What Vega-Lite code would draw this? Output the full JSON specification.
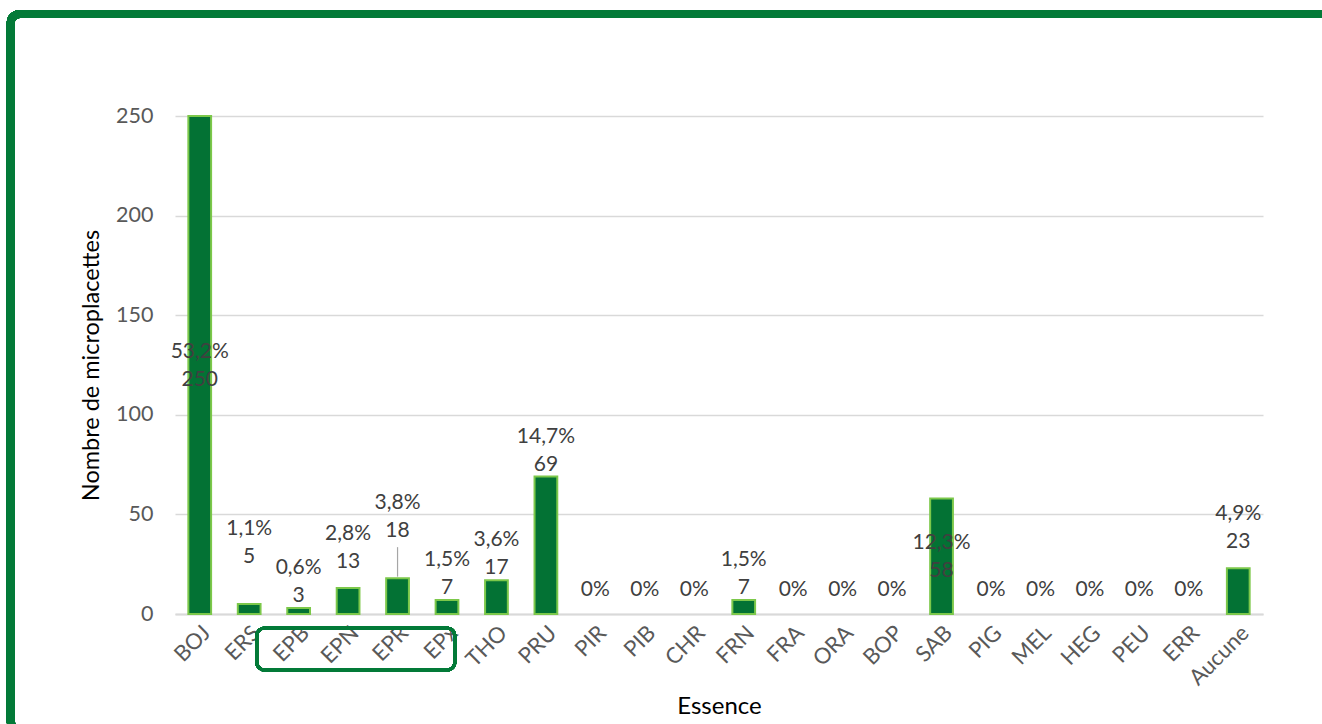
{
  "$schema": "https://vega.github.io/schema/vega-lite/v6.json",
  "width": 1088,
  "height": 498,
  "autosize": {"type": "none"},
  "padding": {"left": 175, "top": 116, "right": 59, "bottom": 110},
  "background": "white",
  "config": {
    "font": "Lato",
    "view": {"stroke": null},
    "text": {"font": "Lato", "fontSize": 21, "color": "#404040"}
  },
  "data": {
    "values": [
      {"essence": "BOJ", "n": 250, "pct": "53,2%"},
      {"essence": "ERS", "n": 5, "pct": "1,1%"},
      {"essence": "EPB", "n": 3, "pct": "0,6%"},
      {"essence": "EPN", "n": 13, "pct": "2,8%"},
      {"essence": "EPR", "n": 18, "pct": "3,8%"},
      {"essence": "EPx", "n": 7, "pct": "1,5%"},
      {"essence": "THO", "n": 17, "pct": "3,6%"},
      {"essence": "PRU", "n": 69, "pct": "14,7%"},
      {"essence": "PIR", "n": 0, "pct": "0%"},
      {"essence": "PIB", "n": 0, "pct": "0%"},
      {"essence": "CHR", "n": 0, "pct": "0%"},
      {"essence": "FRN", "n": 7, "pct": "1,5%"},
      {"essence": "FRA", "n": 0, "pct": "0%"},
      {"essence": "ORA", "n": 0, "pct": "0%"},
      {"essence": "BOP", "n": 0, "pct": "0%"},
      {"essence": "SAB", "n": 58, "pct": "12,3%"},
      {"essence": "PIG", "n": 0, "pct": "0%"},
      {"essence": "MEL", "n": 0, "pct": "0%"},
      {"essence": "HEG", "n": 0, "pct": "0%"},
      {"essence": "PEU", "n": 0, "pct": "0%"},
      {"essence": "ERR", "n": 0, "pct": "0%"},
      {"essence": "Aucune", "n": 23, "pct": "4,9%"}
    ]
  },
  "encoding": {
    "x": {
      "field": "essence",
      "type": "nominal",
      "sort": null,
      "scale": {
        "domain": ["BOJ", "ERS", "EPB", "EPN", "EPR", "EPx", "THO", "PRU", "PIR", "PIB", "CHR", "FRN", "FRA", "ORA", "BOP", "SAB", "PIG", "MEL", "HEG", "PEU", "ERR", "Aucune"],
        "paddingInner": 0.54,
        "paddingOuter": 0.27
      },
      "axis": {
        "title": "Essence",
        "titleFont": "Lato",
        "titleFontSize": 24,
        "titleFontWeight": "normal",
        "titleColor": "#000000",
        "titlePadding": 6,
        "labelAngle": -45,
        "labelFont": "Lato",
        "labelFontSize": 22,
        "labelColor": "#595959",
        "labelPadding": 8,
        "ticks": false,
        "domainColor": "#d9d9d9",
        "domainWidth": 2,
        "grid": false
      }
    },
    "y": {
      "field": "n",
      "type": "quantitative",
      "scale": {"domain": [0, 250], "nice": false},
      "axis": {
        "title": "Nombre de microplacettes",
        "titleFont": "Lato",
        "titleFontSize": 23.5,
        "titleFontWeight": "normal",
        "titleColor": "#000000",
        "titlePadding": 12,
        "values": [0, 50, 100, 150, 200, 250],
        "labelFont": "Lato",
        "labelFontSize": 21.5,
        "labelColor": "#595959",
        "labelPadding": 22,
        "ticks": false,
        "domain": false,
        "grid": true,
        "gridColor": "#d9d9d9",
        "gridWidth": 1.3
      }
    }
  },
  "layer": [
    {
      "transform": [{"filter": "datum.n > 0"}],
      "mark": {"type": "bar", "color": "#037234", "stroke": "#7cc84a", "strokeWidth": 2}
    },
    {
      "transform": [{"filter": "datum.essence === 'EPR'"}],
      "mark": {"type": "rule", "color": "#a6a6a6", "strokeWidth": 1.2, "yOffset": -1.5, "y2Offset": -31},
      "encoding": {"y2": {"field": "n"}}
    },
    {
      "transform": [{"filter": {"field": "essence", "oneOf": ["EPB", "EPx", "THO", "PRU", "FRN"]}}],
      "mark": {"type": "text", "dy": -12},
      "encoding": {"text": {"field": "n", "type": "quantitative"}}
    },
    {
      "transform": [{"filter": {"field": "essence", "oneOf": ["EPB", "EPx", "THO", "PRU", "FRN"]}}],
      "mark": {"type": "text", "dy": -40},
      "encoding": {"text": {"field": "pct", "type": "nominal"}}
    },
    {
      "transform": [{"filter": {"field": "essence", "oneOf": ["EPN", "Aucune"]}}],
      "mark": {"type": "text", "dy": -26},
      "encoding": {"text": {"field": "n", "type": "quantitative"}}
    },
    {
      "transform": [{"filter": {"field": "essence", "oneOf": ["EPN", "Aucune"]}}],
      "mark": {"type": "text", "dy": -54},
      "encoding": {"text": {"field": "pct", "type": "nominal"}}
    },
    {
      "transform": [{"filter": {"field": "essence", "oneOf": ["ERS", "EPR"]}}],
      "mark": {"type": "text", "dy": -47},
      "encoding": {"text": {"field": "n", "type": "quantitative"}}
    },
    {
      "transform": [{"filter": {"field": "essence", "oneOf": ["ERS", "EPR"]}}],
      "mark": {"type": "text", "dy": -75},
      "encoding": {"text": {"field": "pct", "type": "nominal"}}
    },
    {
      "transform": [{"filter": {"field": "essence", "oneOf": ["BOJ", "SAB"]}}],
      "mark": {"type": "text", "dy": 15},
      "encoding": {
        "y": {"field": "n", "type": "quantitative", "stack": "zero", "bandPosition": 0.5},
        "text": {"field": "n", "type": "quantitative"}
      }
    },
    {
      "transform": [{"filter": {"field": "essence", "oneOf": ["BOJ", "SAB"]}}],
      "mark": {"type": "text", "dy": -13},
      "encoding": {
        "y": {"field": "n", "type": "quantitative", "stack": "zero", "bandPosition": 0.5},
        "text": {"field": "pct", "type": "nominal"}
      }
    },
    {
      "transform": [{"filter": "datum.n === 0"}],
      "mark": {"type": "text", "dy": -24},
      "encoding": {"text": {"field": "pct", "type": "nominal"}}
    },
    {
      "mark": {
        "type": "rect",
        "fill": "transparent",
        "stroke": "#037a38",
        "strokeWidth": 3,
        "cornerRadius": 8,
        "xOffset": -42,
        "x2Offset": 8,
        "yOffset": 14,
        "y2Offset": 56
      },
      "encoding": {
        "x": {"datum": "EPB"},
        "x2": {"datum": "EPx"},
        "y": {"datum": 0},
        "y2": {"datum": 0}
      }
    },
    {
      "mark": {
        "type": "rect",
        "fill": "transparent",
        "stroke": "#037a38",
        "strokeWidth": 8,
        "cornerRadius": 9,
        "xOffset": -189,
        "x2Offset": 110,
        "yOffset": -102,
        "y2Offset": 116
      },
      "encoding": {
        "x": {"datum": "BOJ"},
        "x2": {"datum": "Aucune"},
        "y": {"datum": 250},
        "y2": {"datum": 0}
      }
    }
  ]
}
